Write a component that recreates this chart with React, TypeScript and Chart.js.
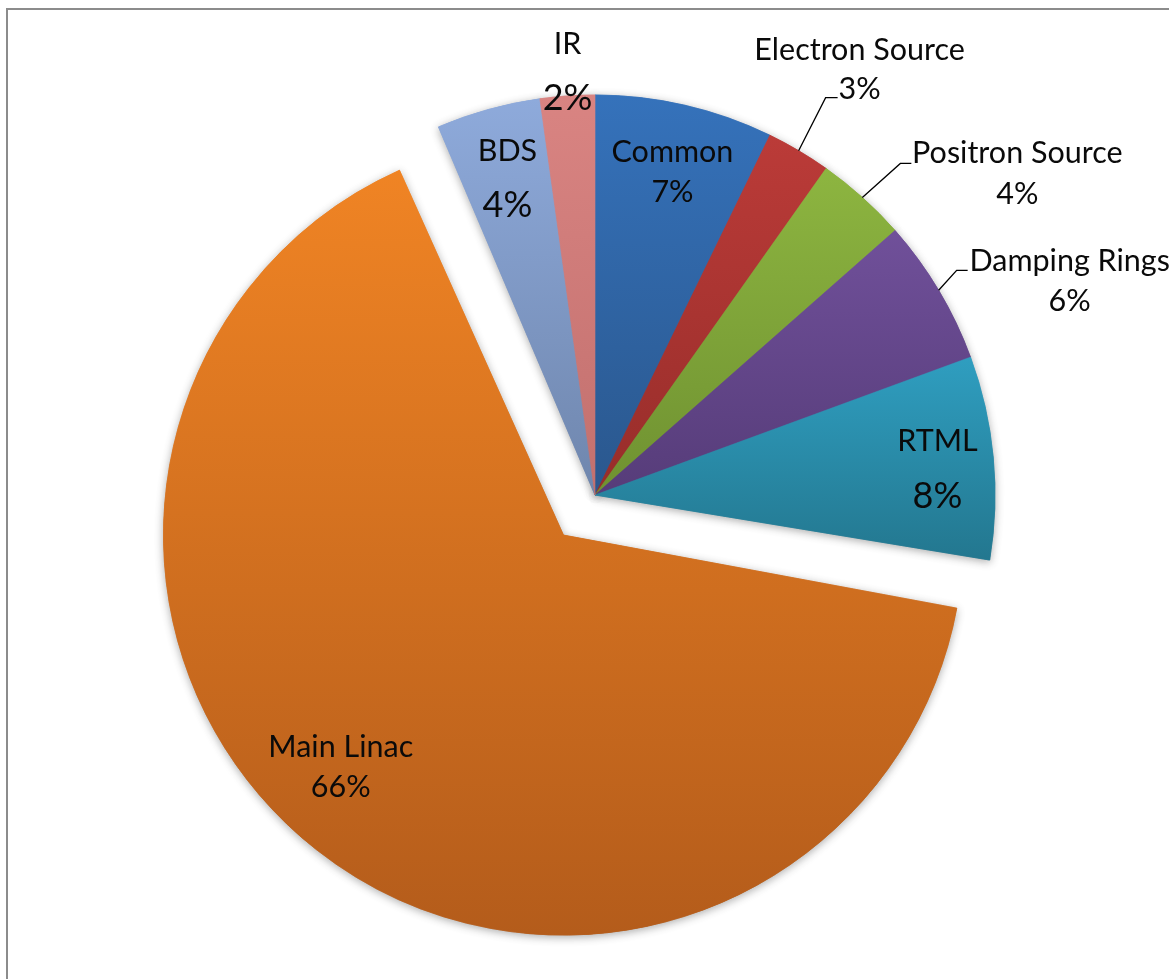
import React, { useEffect, useRef } from "react";
import { Chart, registerables } from "chart.js";

Chart.register(...registerables);

// ---- data ----
const categories = [
  "Common",
  "Electron Source",
  "Positron Source",
  "Damping Rings",
  "RTML",
  "Main Linac",
  "BDS",
  "IR",
];
const shares = [7.2, 2.6, 3.7, 5.9, 8.2, 66.0, 4.2, 2.2];
const explodeOffsets = [0, 0, 0, 0, 0, 204, 0, 0];

// ---- styles ----
const topColors = ["#3572bb", "#bb3b38", "#8db540", "#70509a", "#2f9ec0", "#f08424", "#8eaadb", "#d98482"];
const bottomColors = ["#2a578d", "#972d2a", "#6f9131", "#563c79", "#23778f", "#b45c1b", "#6f86ad", "#c2706e"];
const RADIUS = 400;
const FONT = "Lato, 'Noto Sans', sans-serif";
const NAME_SIZE = 30.5;

// label placement (relative to each arc's geometry)
const labelLayout: any[] = [
  { k: 0.83, dx: 3, dy: 0, gap: 40, pctSize: 30.5 },
  { k: 1, dx: 61, dy: -82, gap: 39, pctSize: 30.5, leader: [27, -53, 39, -53] },
  { k: 1, dx: 155, dy: -25, gap: 41, pctSize: 30.5, leader: [38, -34, 49, -34] },
  { k: 1, dx: 131, dy: -10, gap: 40, pctSize: 30.5, leader: [18, -20, 29, -20] },
  { k: 0.86, dx: 0, dy: 5, gap: 55, pctSize: 36 },
  { k: 0.8, dx: -25, dy: -21, gap: 40, pctSize: 30.5 },
  { k: 0.83, dx: 1, dy: 2, gap: 54, pctSize: 36 },
  { k: 1.065, dx: 2, dy: 0, gap: 54, pctSize: 36 },
];

function sliceGradient(c: any) {
  const chart = c.chart;
  const area = chart.chartArea;
  const i = c.dataIndex;
  if (!area || i === undefined) return topColors[i ?? 0];
  const total = shares.reduce((a, b) => a + b, 0);
  let cum = 0;
  for (let j = 0; j < i; j++) cum += shares[j];
  const a0 = -Math.PI / 2 + (2 * Math.PI * cum) / total;
  const a1 = a0 + (2 * Math.PI * shares[i]) / total;
  const cy = (area.top + area.bottom) / 2;
  let minY = cy;
  let maxY = cy;
  const consider = (a: number) => {
    const y = cy + RADIUS * Math.sin(a);
    minY = Math.min(minY, y);
    maxY = Math.max(maxY, y);
  };
  consider(a0);
  consider(a1);
  for (const q of [-Math.PI / 2, Math.PI / 2, (3 * Math.PI) / 2]) {
    if (q > a0 && q < a1) consider(q);
  }
  const g = chart.ctx.createLinearGradient(0, minY, 0, maxY);
  g.addColorStop(0, topColors[i]);
  g.addColorStop(1, bottomColors[i]);
  return g;
}

function arcFix(circumference: number) {
  return 1 - Math.sin(Math.min(Math.PI, circumference || 0));
}

// keep exploded slices the same visual radius as the others
const explodeRadiusPlugin = {
  id: "explodeRadius",
  afterDatasetUpdate(chart: any, args: any) {
    if (args.index !== 0) return;
    const meta = chart.getDatasetMeta(0);
    meta.data.forEach((arc: any, i: number) => {
      const off = explodeOffsets[i] / 4;
      if (off > 0) {
        arc.outerRadius = RADIUS - off * arcFix(arc.circumference);
      }
    });
  },
};

const shadowPlugin = {
  id: "sliceShadow",
  beforeDatasetsDraw(chart: any) {
    const ctx = chart.ctx;
    const meta = chart.getDatasetMeta(0);
    meta.data.forEach((arc: any) => {
      ctx.save();
      ctx.shadowColor = "rgba(0,0,0,0.32)";
      ctx.shadowBlur = 8;
      ctx.shadowOffsetX = 0;
      ctx.shadowOffsetY = 2;
      arc.draw(ctx);
      ctx.restore();
    });
  },
};

const labelPlugin = {
  id: "sliceLabels",
  afterDatasetsDraw(chart: any) {
    const ctx = chart.ctx;
    const meta = chart.getDatasetMeta(0);
    const total = shares.reduce((a, b) => a + b, 0);
    meta.data.forEach((arc: any, i: number) => {
      const p = arc.getProps(["x", "y", "startAngle", "endAngle", "outerRadius", "circumference"], true);
      const mid = (p.startAngle + p.endAngle) / 2;
      const off = explodeOffsets[i] / 4;
      const r = p.outerRadius + off * arcFix(p.circumference);
      const cx = p.x + Math.cos(mid) * off;
      const cy = p.y + Math.sin(mid) * off;
      const spec = labelLayout[i];
      const ax = cx + Math.cos(mid) * r * spec.k;
      const ay = cy + Math.sin(mid) * r * spec.k;
      const bx = ax + spec.dx;
      const by = ay + spec.dy;
      ctx.save();
      if (spec.leader) {
        const [ex, ey, hx, hy] = spec.leader;
        ctx.strokeStyle = "#000";
        ctx.lineWidth = 1.3;
        ctx.beginPath();
        ctx.moveTo(ax, ay);
        ctx.lineTo(ax + ex, ay + ey);
        ctx.lineTo(ax + hx, ay + hy);
        ctx.stroke();
      }
      ctx.fillStyle = "#0a0a0a";
      ctx.textAlign = "center";
      ctx.textBaseline = "alphabetic";
      const nameY = by - spec.gap / 2;
      const pctY = by + spec.gap / 2;
      ctx.font = `${NAME_SIZE}px ${FONT}`;
      ctx.fillText(categories[i], bx, nameY + NAME_SIZE * 0.36);
      ctx.font = `${spec.pctSize}px ${FONT}`;
      const pct = Math.round((shares[i] / total) * 100) + "%";
      ctx.fillText(pct, bx, pctY + spec.pctSize * 0.36);
      ctx.restore();
    });
  },
};

export default function App() {
  const canvasRef = useRef<HTMLCanvasElement | null>(null);

  useEffect(() => {
    const canvas = canvasRef.current;
    if (!canvas) return;
    const chart = new Chart(canvas, {
      type: "pie",
      data: {
        labels: categories,
        datasets: [
          {
            data: shares,
            backgroundColor: sliceGradient as any,
            borderColor: sliceGradient as any,
            borderWidth: 0.6,
            offset: explodeOffsets,
          } as any,
        ],
      },
      options: {
        responsive: false,
        animation: false,
        radius: RADIUS,
        layout: { padding: { left: 21, top: 11, right: 0, bottom: 0 } },
        plugins: {
          legend: { display: false },
          tooltip: { enabled: false },
        },
      } as any,
      plugins: [explodeRadiusPlugin, shadowPlugin, labelPlugin],
    });
    return () => chart.destroy();
  }, []);

  return (
    <div
      style={{
        position: "absolute",
        left: 0,
        top: 0,
        width: 1169,
        height: 979,
        overflow: "hidden",
        background: "#ffffff",
      }}
    >
      <div
        style={{
          position: "absolute",
          left: 6,
          top: 8,
          width: 2000,
          height: 2000,
          borderLeft: "2px solid #8c8c8c",
          borderTop: "2px solid #8c8c8c",
        }}
      />
      <canvas
        ref={canvasRef}
        width={1169}
        height={979}
        style={{ position: "absolute", left: 0, top: 0, width: 1169, height: 979 }}
      />
    </div>
  );
}
